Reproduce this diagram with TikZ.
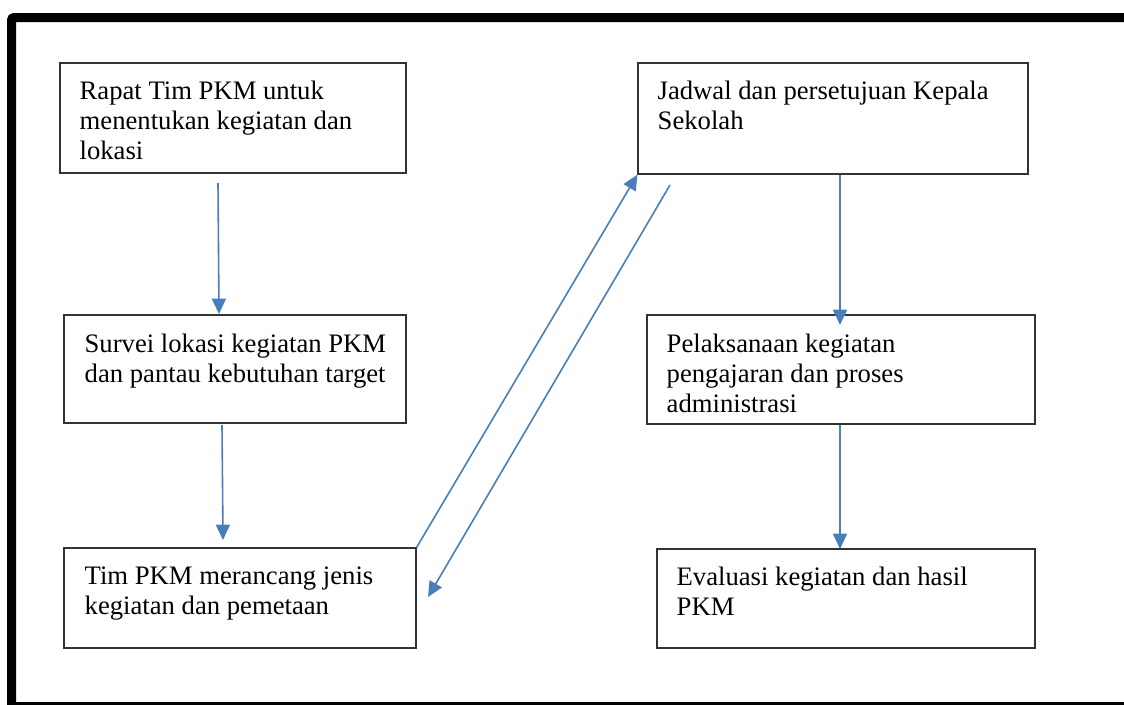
\documentclass[tikz,border=0pt]{standalone}
\usepackage{fontspec}
\setmainfont{Liberation Serif}
\usetikzlibrary{arrows.meta,fit,calc}
\definecolor{arrowblue}{RGB}{74,126,187}
\tikzset{
  box/.style={draw=black!80, line width=0.9pt, inner sep=0pt, fill=none},
  txt/.style={anchor=north west, inner sep=0pt, align=left, font=\fontsize{20}{22.75}\selectfont},
  arr/.style={draw=arrowblue, line width=1.2pt, -{Triangle[length=11.5pt,width=10.5pt]}},
  frame/.style={draw=black, line width=6.75pt, rounded corners=2pt}
}
\begin{document}
\begin{tikzpicture}[x=0.75pt,y=-0.75pt]
\useasboundingbox (0,0) rectangle (1124,704);
\clip (0,0) rectangle (1124,704);
\draw[frame] (11.5,17.5) rectangle (1140,706.5);
% boxes
\node[box, fit={(60,63) (406,173)}] (b1) {};
\node[box, fit={(64,315) (406,423)}] (b2) {};
\node[box, fit={(64,548) (416,648)}] (b3) {};
\node[box, fit={(638,63) (1028,174)}] (b4) {};
\node[box, fit={(647,315) (1035,424)}] (b5) {};
\node[box, fit={(657,549) (1035,648)}] (b6) {};
% texts
\node[txt] (t1) at ($(b1.north west)+(20,18)$) {Rapat Tim PKM untuk\\menentukan kegiatan dan\\lokasi};
\node[txt] (t2) at ($(b2.north west)+(21,19)$) {Survei lokasi kegiatan PKM\\dan pantau kebutuhan target};
\node[txt] (t3) at ($(b3.north west)+(21,19)$) {Tim PKM merancang jenis\\kegiatan dan pemetaan};
\node[txt] (t4) at ($(b4.north west)+(20,18)$) {Jadwal dan persetujuan Kepala\\Sekolah};
\node[txt] (t5) at ($(b5.north west)+(20,19)$) {Pelaksanaan kegiatan\\pengajaran dan proses\\administrasi};
\node[txt] (t6) at ($(b6.north west)+(20,18)$) {Evaluasi kegiatan dan hasil\\PKM};
% connector end points
\coordinate (a1s) at (218,183);
\coordinate (a1e) at (219,314);
\coordinate (a2s) at (222,425);
\coordinate (a2e) at (223,540);
\coordinate (a4s) at (670,185);
\coordinate (a4e) at (428,597);
\coordinate (a5e) at (840,325);
\coordinate (a6e) at (840,549);
% connectors
\draw[arr] (a1s) -- (a1e);
\draw[arr] (a2s) -- (a2e);
\draw[arr] (b3.north east) -- (b4.south west);
\draw[arr] (a4s) -- (a4e);
\draw[arr] (b4.south west -| a5e) -- (a5e);
\draw[arr] (b5.south -| a6e) -- (a6e);
\end{tikzpicture}
\end{document}
